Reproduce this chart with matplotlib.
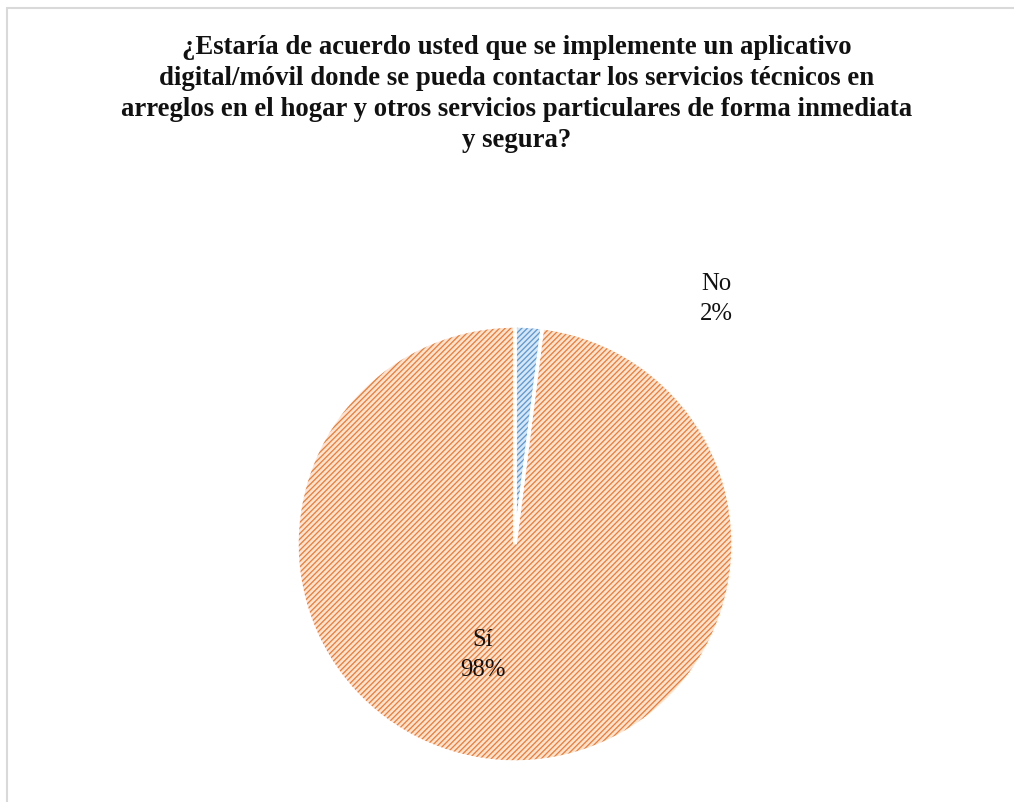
import matplotlib
matplotlib.use("Agg")
import matplotlib.pyplot as plt
from matplotlib.patches import Rectangle

labels = ["No", "Sí"]
values = [2, 98]
face_colors = ["#D8E6F5", "#FDE4D4"]
hatch_colors = ["#5B9BD5", "#F07D30"]
title = ("¿Estaría de acuerdo usted que se implemente un aplicativo\n"
         "digital/móvil donde se pueda contactar los servicios técnicos en\n"
         "arreglos en el hogar y otros servicios particulares de forma inmediata\n"
         "y segura?")

plt.rcParams['font.family'] = ['Liberation Serif', 'DejaVu Serif']
plt.rcParams['hatch.linewidth'] = 0.95

fig = plt.figure(figsize=(10.14, 8.03), dpi=100)
fig.patches.append(Rectangle((6.5/1014, -0.1), 1.2, (803-8.5)/803 + 0.1,
                             transform=fig.transFigure, facecolor='white',
                             edgecolor='#D9D9D9', linewidth=1.5, zorder=-5))

ax = fig.add_axes([297/1014, 40/803, 436/1014, 436/803])
ax.set_zorder(2)
ax.patch.set_visible(False)

# base fill
w1, _ = ax.pie(values, colors=face_colors, startangle=90, counterclock=False,
               wedgeprops=dict(linewidth=0))
# hatch layer
w2, _ = ax.pie(values, colors=['none', 'none'], startangle=90, counterclock=False,
               wedgeprops=dict(linewidth=0))
for w, hc in zip(w2, hatch_colors):
    w.set_hatch('//////')
    w.set_edgecolor(hc)
    w.set_linewidth(0)
# white separators
ax.pie(values, colors=['none', 'none'], startangle=90, counterclock=False,
       wedgeprops=dict(linewidth=2.5, edgecolor='white'))

ax.set_xlim(-1, 1)
ax.set_ylim(-1, 1)
ax.set_aspect('equal')

label_pos = [(0.922, 1.128), (-0.147, -0.505)]
for lab, v, (x, y) in zip(labels, values, label_pos):
    ax.text(x, y, f"{lab}\n{v}%", ha='center', va='center', fontsize=17.8,
            linespacing=1.45, color='#111111')

fig.text(517/1014, 1 - 94/803, title, ha='center', va='center', fontsize=19.3,
         fontweight='bold', linespacing=1.3, color='#111111')

fig.savefig("out.png", dpi=100)
